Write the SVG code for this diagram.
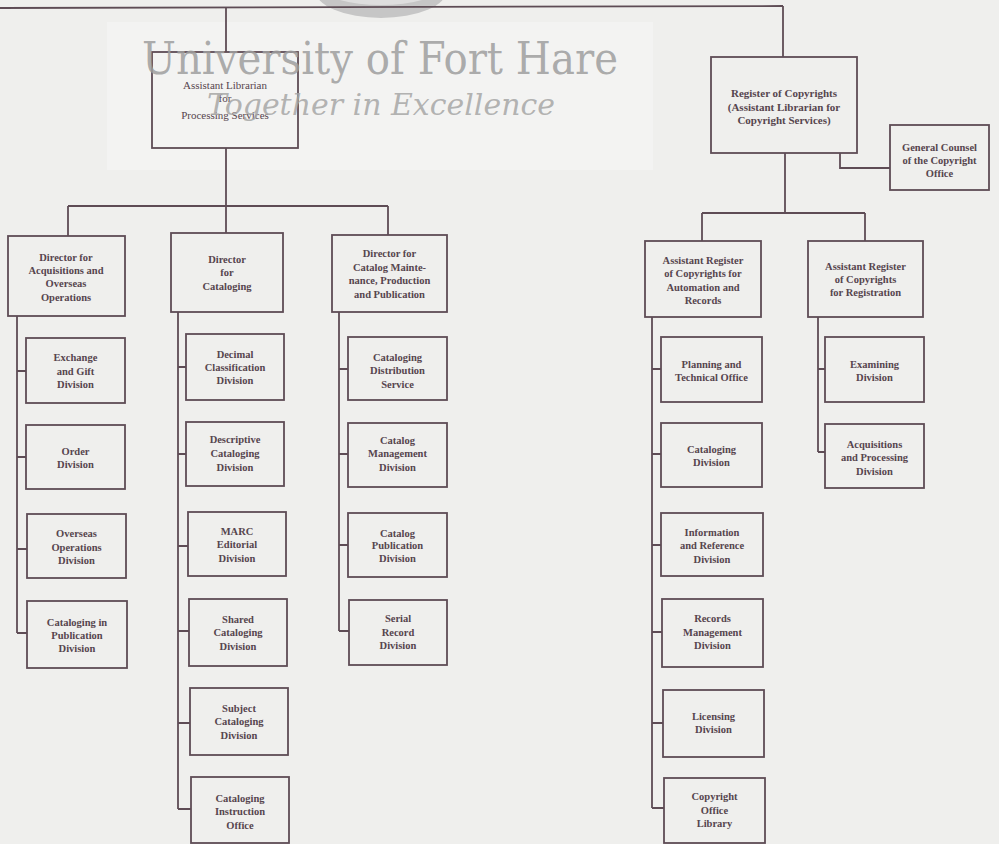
<svg xmlns="http://www.w3.org/2000/svg" width="999" height="844" viewBox="0 0 999 844">
<style>
.bg{fill:#efefed}
.box{fill:none;stroke:#5e4c55;stroke-width:1.8}
.ln{fill:none;stroke:#5e4c55;stroke-width:1.8}
text{font-family:"Liberation Serif","Times New Roman",serif;fill:#56454e;text-anchor:middle}
.b{font-size:10.5px;font-weight:bold}
.r{font-size:11px}
.rg{font-size:11px;font-weight:bold}
.wm1{font-family:"DejaVu Serif","Liberation Serif",serif;font-size:44px;fill:#9e9e9e;fill-opacity:0.85;text-anchor:start}
.wm2{font-family:"DejaVu Serif","Liberation Serif",serif;font-size:29px;font-style:italic;fill:#a6a6a6;fill-opacity:0.85;text-anchor:start}
</style>
<rect class="bg" x="0" y="0" width="999" height="844"/>
<rect x="107" y="22" width="546" height="148" fill="#f3f3f2"/>
<ellipse cx="381" cy="-10" rx="66" ry="28" fill="#c6c6c6"/>
<ellipse cx="381" cy="-12" rx="58" ry="17" fill="#dedede"/>

<g id="connectors">
<path class="ln" d="M0 8 L783 6"/>
<path class="ln" d="M226 7 V52"/>
<path class="ln" d="M783 6 V57"/>
<path class="ln" d="M226 148 V206 M68 206 H388 M68 206 V236 M226 206 V233 M388 206 V235"/>
<path class="ln" d="M17 316 V633 M17 371 H26 M17 457 H26 M17 549 H27 M17 633 H27"/>
<path class="ln" d="M178 312 V809 M178 367 H186 M178 454 H186 M178 546 H188 M178 631 H189 M178 723 H190 M178 809 H191"/>
<path class="ln" d="M339 312 V631 M339 369 H348 M339 454 H348 M339 545 H348 M339 631 H349"/>
<path class="ln" d="M840 153 V168 H890"/>
<path class="ln" d="M785 153 V213 M702 213 H865 M702 213 V241 M865 213 V241"/>
<path class="ln" d="M652 317 V808 M652 369 H661 M652 454 H661 M652 545 H661 M652 632 H662 M652 723 H663 M652 808 H664"/>
<path class="ln" d="M818 317 V452 M818 369 H825 M818 452 H825"/>
</g>

<g id="al">
<rect class="box" x="152" y="52" width="146" height="96"/>
<text class="r" x="225" y="89">Assistant Librarian</text>
<text class="r" x="225" y="102">for</text>
<text class="r" x="225" y="119">Processing Services</text>
</g>

<g id="d1">
<rect class="box" x="8" y="236" width="117" height="80"/>
<text class="b" x="66" y="261">Director for</text>
<text class="b" x="66" y="274">Acquisitions and</text>
<text class="b" x="66" y="287">Overseas</text>
<text class="b" x="66" y="301">Operations</text>
</g>
<g id="c1a">
<rect class="box" x="26" y="338" width="99" height="65"/>
<text class="b" x="75.5" y="361">Exchange</text>
<text class="b" x="75.5" y="375">and Gift</text>
<text class="b" x="75.5" y="388">Division</text>
</g>
<g id="c1b">
<rect class="box" x="26" y="425" width="99" height="64"/>
<text class="b" x="75.5" y="455">Order</text>
<text class="b" x="75.5" y="468">Division</text>
</g>
<g id="c1c">
<rect class="box" x="27" y="514" width="99" height="64"/>
<text class="b" x="76.5" y="537">Overseas</text>
<text class="b" x="76.5" y="551">Operations</text>
<text class="b" x="76.5" y="564">Division</text>
</g>
<g id="c1d">
<rect class="box" x="27" y="601" width="100" height="67"/>
<text class="b" x="77" y="626">Cataloging in</text>
<text class="b" x="77" y="639">Publication</text>
<text class="b" x="77" y="652">Division</text>
</g>

<g id="d2">
<rect class="box" x="171" y="233" width="112" height="79"/>
<text class="b" x="227" y="263">Director</text>
<text class="b" x="227" y="276">for</text>
<text class="b" x="227" y="290">Cataloging</text>
</g>
<g id="c2a">
<rect class="box" x="186" y="334" width="98" height="66"/>
<text class="b" x="235" y="358">Decimal</text>
<text class="b" x="235" y="371">Classification</text>
<text class="b" x="235" y="384">Division</text>
</g>
<g id="c2b">
<rect class="box" x="186" y="422" width="98" height="64"/>
<text class="b" x="235" y="443">Descriptive</text>
<text class="b" x="235" y="457">Cataloging</text>
<text class="b" x="235" y="471">Division</text>
</g>
<g id="c2c">
<rect class="box" x="188" y="512" width="98" height="64"/>
<text class="b" x="237" y="535">MARC</text>
<text class="b" x="237" y="548">Editorial</text>
<text class="b" x="237" y="562">Division</text>
</g>
<g id="c2d">
<rect class="box" x="189" y="599" width="98" height="67"/>
<text class="b" x="238" y="623">Shared</text>
<text class="b" x="238" y="636">Cataloging</text>
<text class="b" x="238" y="650">Division</text>
</g>
<g id="c2e">
<rect class="box" x="190" y="688" width="98" height="67"/>
<text class="b" x="239" y="712">Subject</text>
<text class="b" x="239" y="725">Cataloging</text>
<text class="b" x="239" y="739">Division</text>
</g>
<g id="c2f">
<rect class="box" x="191" y="777" width="98" height="66"/>
<text class="b" x="240" y="802">Cataloging</text>
<text class="b" x="240" y="815">Instruction</text>
<text class="b" x="240" y="829">Office</text>
</g>

<g id="d3">
<rect class="box" x="332" y="235" width="115" height="77"/>
<text class="b" x="389.5" y="257">Director for</text>
<text class="b" x="389.5" y="271">Catalog Mainte-</text>
<text class="b" x="389.5" y="284">nance, Production</text>
<text class="b" x="389.5" y="298">and Publication</text>
</g>
<g id="c3a">
<rect class="box" x="348" y="337" width="99" height="63"/>
<text class="b" x="397.5" y="361">Cataloging</text>
<text class="b" x="397.5" y="374">Distribution</text>
<text class="b" x="397.5" y="388">Service</text>
</g>
<g id="c3b">
<rect class="box" x="348" y="423" width="99" height="64"/>
<text class="b" x="397.5" y="444">Catalog</text>
<text class="b" x="397.5" y="457">Management</text>
<text class="b" x="397.5" y="471">Division</text>
</g>
<g id="c3c">
<rect class="box" x="348" y="513" width="99" height="64"/>
<text class="b" x="397.5" y="537">Catalog</text>
<text class="b" x="397.5" y="549">Publication</text>
<text class="b" x="397.5" y="562">Division</text>
</g>
<g id="c3d">
<rect class="box" x="349" y="600" width="98" height="65"/>
<text class="b" x="398" y="622">Serial</text>
<text class="b" x="398" y="636">Record</text>
<text class="b" x="398" y="649">Division</text>
</g>

<g id="reg">
<rect class="box" x="711" y="57" width="146" height="96"/>
<text class="rg" x="784" y="97">Register of Copyrights</text>
<text class="rg" x="784" y="111">(Assistant Librarian for</text>
<text class="rg" x="784" y="124">Copyright Services)</text>
</g>
<g id="gc">
<rect class="box" x="890" y="125" width="99" height="65"/>
<text class="b" x="939.5" y="151">General Counsel</text>
<text class="b" x="939.5" y="164">of the Copyright</text>
<text class="b" x="939.5" y="177">Office</text>
</g>

<g id="ar1">
<rect class="box" x="645" y="241" width="116" height="76"/>
<text class="b" x="703" y="264">Assistant Register</text>
<text class="b" x="703" y="277">of Copyrights for</text>
<text class="b" x="703" y="291">Automation and</text>
<text class="b" x="703" y="304">Records</text>
</g>
<g id="r1a">
<rect class="box" x="661" y="337" width="101" height="65"/>
<text class="b" x="711.5" y="368">Planning and</text>
<text class="b" x="711.5" y="381">Technical Office</text>
</g>
<g id="r1b">
<rect class="box" x="661" y="423" width="101" height="64"/>
<text class="b" x="711.5" y="453">Cataloging</text>
<text class="b" x="711.5" y="466">Division</text>
</g>
<g id="r1c">
<rect class="box" x="661" y="513" width="102" height="63"/>
<text class="b" x="712" y="536">Information</text>
<text class="b" x="712" y="549">and Reference</text>
<text class="b" x="712" y="563">Division</text>
</g>
<g id="r1d">
<rect class="box" x="662" y="599" width="101" height="68"/>
<text class="b" x="712.5" y="622">Records</text>
<text class="b" x="712.5" y="636">Management</text>
<text class="b" x="712.5" y="649">Division</text>
</g>
<g id="r1e">
<rect class="box" x="663" y="690" width="101" height="67"/>
<text class="b" x="713.5" y="720">Licensing</text>
<text class="b" x="713.5" y="733">Division</text>
</g>
<g id="r1f">
<rect class="box" x="664" y="778" width="101" height="65"/>
<text class="b" x="714.5" y="800">Copyright</text>
<text class="b" x="714.5" y="814">Office</text>
<text class="b" x="714.5" y="827">Library</text>
</g>

<g id="ar2">
<rect class="box" x="808" y="241" width="115" height="76"/>
<text class="b" x="865.5" y="270">Assistant Register</text>
<text class="b" x="865.5" y="283">of Copyrights</text>
<text class="b" x="865.5" y="296">for Registration</text>
</g>
<g id="r2a">
<rect class="box" x="825" y="337" width="99" height="65"/>
<text class="b" x="874.5" y="368">Examining</text>
<text class="b" x="874.5" y="381">Division</text>
</g>
<g id="r2b">
<rect class="box" x="825" y="424" width="99" height="64"/>
<text class="b" x="874.5" y="448">Acquisitions</text>
<text class="b" x="874.5" y="461">and Processing</text>
<text class="b" x="874.5" y="475">Division</text>
</g>

<g id="watermark">
<text class="wm1" x="142" y="74" textLength="476" lengthAdjust="spacingAndGlyphs">University of Fort Hare</text>
<text class="wm2" x="207" y="115" textLength="348" lengthAdjust="spacingAndGlyphs">Together in Excellence</text>
</g>
</svg>
